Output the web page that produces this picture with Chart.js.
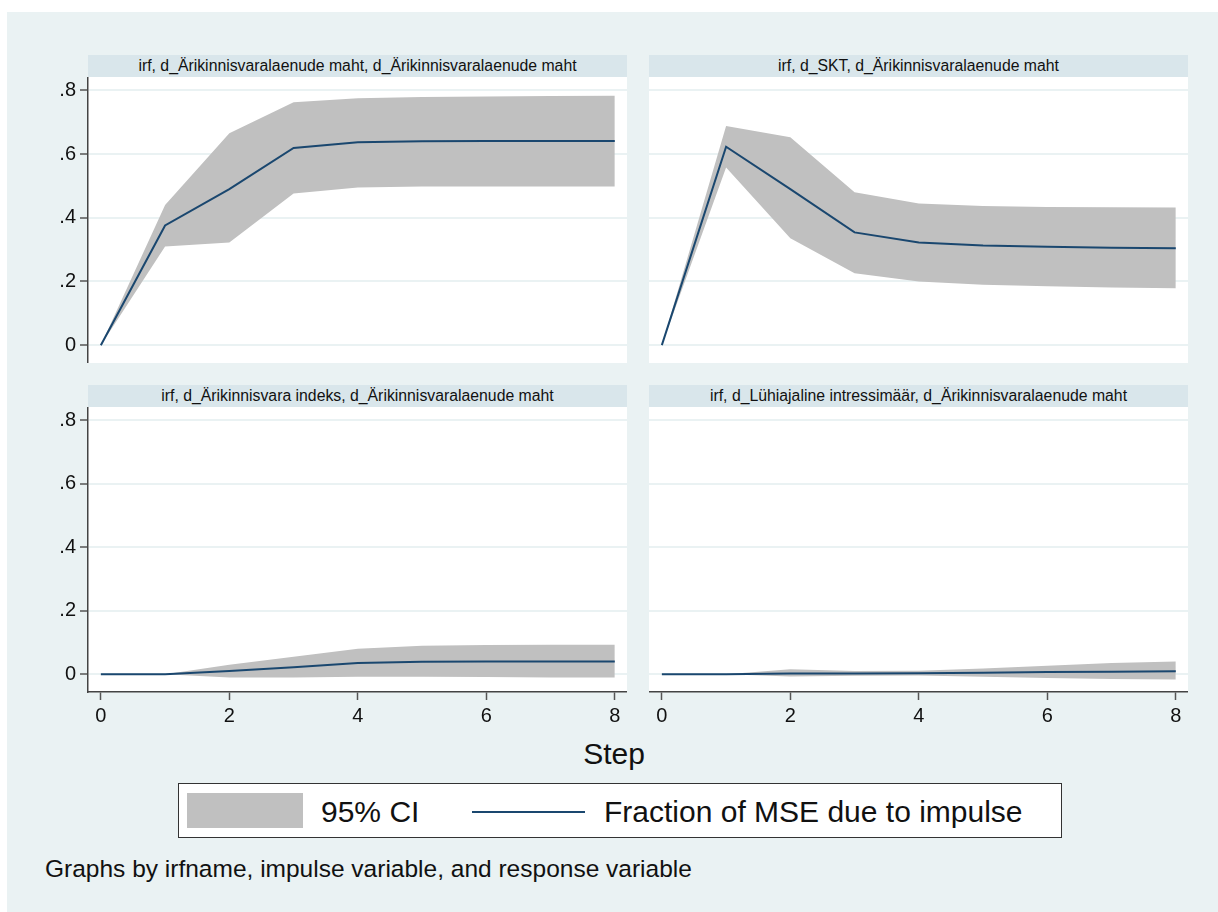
<!DOCTYPE html>
<html>
<head>
<meta charset="utf-8">
<script src="https://cdn.jsdelivr.net/npm/chart.js@4.4.1/dist/chart.umd.min.js"></script>
<style>
  html, body { margin:0; padding:0; background:#ffffff; }
  #wrap { position:relative; width:1218px; height:912px; overflow:hidden; font-family:"Liberation Sans", Arial, sans-serif; }
  #bg { position:absolute; left:7px; top:12px; right:0; bottom:0; background:#EAF2F3; }
  canvas { position:absolute; }
  .ttl { position:absolute; height:22px; line-height:22px; background:#D9E6EB; color:#111; font-size:15.8px; text-align:center; white-space:nowrap; }
  .txt { position:absolute; color:#111; white-space:nowrap; }
</style>
</head>
<body>
<div id="wrap">
  <div id="bg"></div>
  <div class="ttl" style="left:88px; top:55px; width:539px;">irf, d_Ärikinnisvaralaenude maht, d_Ärikinnisvaralaenude maht</div>
  <div class="ttl" style="left:649px; top:55px; width:539px;">irf, d_SKT, d_Ärikinnisvaralaenude maht</div>
  <div class="ttl" style="left:88px; top:385px; width:539px;">irf, d_Ärikinnisvara indeks, d_Ärikinnisvaralaenude maht</div>
  <div class="ttl" style="left:649px; top:385px; width:539px;">irf, d_Lühiajaline intressimäär, d_Ärikinnisvaralaenude maht</div>
  <canvas id="c1" width="627" height="286" style="left:0px; top:77px;"></canvas>
  <canvas id="c2" width="539" height="286" style="left:649px; top:77px;"></canvas>
  <canvas id="c3" width="627" height="328" style="left:0px; top:407px;"></canvas>
  <canvas id="c4" width="539" height="328" style="left:649px; top:407px;"></canvas>
  <div class="txt" style="left:414px; width:400px; top:736px; text-align:center; font-size:30px; line-height:36px;">Step</div>
  <div style="position:absolute; left:178px; top:783px; width:882px; height:53px; background:#fff; border:1.5px solid #333;"></div>
  <div style="position:absolute; left:187px; top:793px; width:116px; height:35px; background:#C0C0C0;"></div>
  <div class="txt" style="left:321px; top:794px; font-size:30px; line-height:36px;">95% CI</div>
  <div style="position:absolute; left:472px; top:811px; width:113px; height:2px; background:#1A476F;"></div>
  <div class="txt" style="left:604px; top:794px; font-size:30px; line-height:36px;">Fraction of MSE due to impulse</div>
  <div class="txt" style="left:45px; top:855px; font-size:24.5px; line-height:28px;">Graphs by irfname, impulse variable, and response variable</div>
</div>
<script>
// ---- data ----
const steps = [0, 1, 2, 3, 4, 5, 6, 7, 8];
const yTicks = [0, 0.2, 0.4, 0.6, 0.8];
const xTicks = [0, 2, 4, 6, 8];

// panel 1: impulse d_Ärikinnisvaralaenude maht
const p1Mid = [0, 0.376, 0.490, 0.619, 0.637, 0.640, 0.641, 0.641, 0.641];
const p1Up  = [0, 0.440, 0.665, 0.763, 0.775, 0.779, 0.781, 0.782, 0.783];
const p1Lo  = [0, 0.310, 0.322, 0.476, 0.495, 0.498, 0.498, 0.498, 0.498];

// panel 2: impulse d_SKT
const p2Mid = [0, 0.623, 0.490, 0.354, 0.322, 0.313, 0.309, 0.306, 0.304];
const p2Up  = [0, 0.688, 0.653, 0.480, 0.445, 0.437, 0.434, 0.433, 0.432];
const p2Lo  = [0, 0.558, 0.336, 0.226, 0.200, 0.190, 0.185, 0.181, 0.179];

// panel 3: impulse d_Ärikinnisvara indeks
const p3Mid = [0, 0, 0.010, 0.022, 0.035, 0.039, 0.040, 0.040, 0.040];
const p3Up  = [0, 0, 0.030, 0.055, 0.080, 0.090, 0.092, 0.093, 0.093];
const p3Lo  = [0, 0, -0.010, -0.010, -0.008, -0.008, -0.009, -0.010, -0.010];

// panel 4: impulse d_Lühiajaline intressimäär
const p4Mid = [0, 0, 0.002, 0.002, 0.003, 0.005, 0.007, 0.008, 0.0095];
const p4Up  = [0, 0, 0.016, 0.010, 0.011, 0.018, 0.027, 0.035, 0.040];
const p4Lo  = [0, 0, -0.007, -0.005, -0.004, -0.008, -0.012, -0.015, -0.017];

// ---- drawing ----
const pts = arr => steps.map((s, i) => ({ x: s, y: arr[i] }));
const whiteArea = {
  id: 'whiteArea',
  beforeDraw(chart) {
    const a = chart.chartArea, c = chart.ctx;
    c.save(); c.fillStyle = '#ffffff';
    c.fillRect(a.left, a.top, a.right - a.left, a.bottom - a.top);
    c.restore();
  }
};

function makeChart(id, mid, up, lo, showY, showX) {
  new Chart(document.getElementById(id), {
    type: 'line',
    data: {
      datasets: [
        { data: pts(mid), borderWidth: 2, pointRadius: 0, fill: false, borderColor: '#1A476F' },
        { data: pts(lo), borderWidth: 0, pointRadius: 0, fill: false, borderColor: 'rgba(0,0,0,0)' },
        { data: pts(up), borderWidth: 0, pointRadius: 0, fill: '-1', backgroundColor: '#C0C0C0', borderColor: 'rgba(0,0,0,0)' }
      ]
    },
    options: {
      responsive: false, animation: false, devicePixelRatio: 1,
      layout: { padding: 0 },
      elements: { line: { tension: 0 } },
      plugins: { legend: { display: false }, tooltip: { enabled: false }, title: { display: false } },
      scales: {
        x: {
          type: 'linear', min: -0.2, max: 8.19, display: showX,
          afterBuildTicks: s => { s.ticks = xTicks.map(v => ({ value: v })); },
          afterFit: s => { s.height = showX ? 43 : 0; s.paddingLeft = 0; s.paddingRight = 0; },
          grid: { drawOnChartArea: false, drawTicks: true, tickLength: 8, tickColor: '#555', tickWidth: 1.5 },
          border: { display: true, color: '#444', width: 1.5 },
          ticks: { color: '#111', font: { family: 'Liberation Sans', size: 20 }, padding: 4, maxRotation: 0,
                   callback: v => String(v) }
        },
        y: {
          type: 'linear', min: -0.056, max: 0.842,
          afterBuildTicks: s => { s.ticks = yTicks.map(v => ({ value: v })); },
          afterFit: s => { s.width = showY ? 88 : 0; s.paddingTop = 0; s.paddingBottom = 0; },
          grid: { color: '#EAF2F3', lineWidth: 2, drawTicks: showY, tickLength: 8, tickColor: '#555', tickWidth: 1.5 },
          border: { display: showY, color: '#444', width: 1.5 },
          ticks: { display: showY, color: '#111', font: { family: 'Liberation Sans', size: 20 }, padding: 4,
                   callback: v => v === 0 ? '0' : v.toFixed(1).replace(/^0/, '') }
        }
      }
    },
    plugins: [whiteArea]
  });
}

makeChart('c1', p1Mid, p1Up, p1Lo, true, false);
makeChart('c2', p2Mid, p2Up, p2Lo, false, false);
makeChart('c3', p3Mid, p3Up, p3Lo, true, true);
makeChart('c4', p4Mid, p4Up, p4Lo, false, true);
</script>
</body>
</html>
